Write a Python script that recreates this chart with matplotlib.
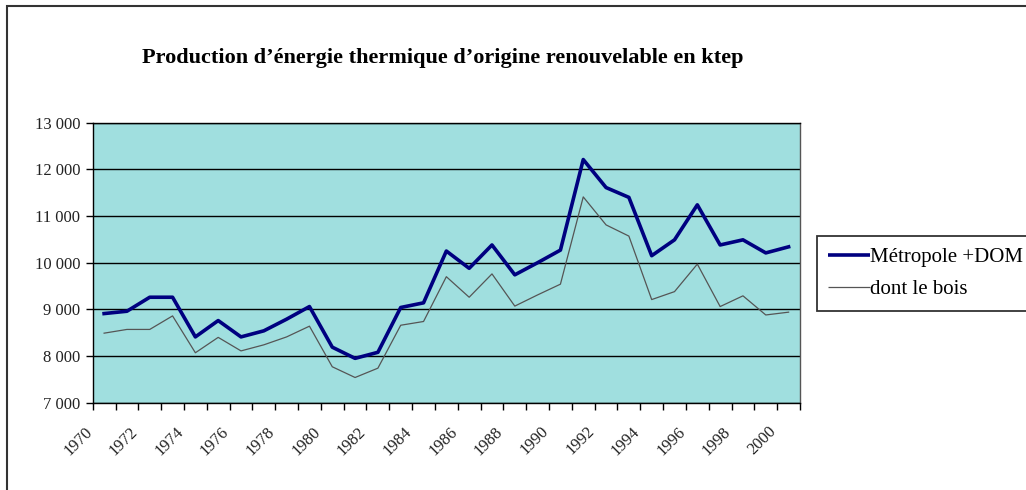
"""
Production d'energie thermique d'origine renouvelable (ktep), 1970-2000.
"""
import matplotlib

matplotlib.use("Agg")
import matplotlib.pyplot as plt
from matplotlib.patches import Rectangle
from matplotlib.transforms import ScaledTranslation
import numpy as np

years = list(range(1970, 2001))
metropole_dom = [
    8910, 8960, 9260, 9260, 8410, 8760, 8410, 8540, 8790, 9060,
    8190, 7950, 8080, 9040, 9140, 10250, 9880, 10380, 9740, 10000,
    10270, 12210, 11610, 11400, 10150, 10490, 11240, 10380, 10490, 10210,
    10340,
]
bois = [
    8490, 8570, 8570, 8860, 8070, 8400, 8110, 8240, 8410, 8640,
    7770, 7540, 7740, 8660, 8740, 9700, 9260, 9760, 9070, 9310,
    9540, 11410, 10810, 10570, 9210, 9380, 9970, 9060, 9290, 8880,
    8940,
]
yticks = [7000, 8000, 9000, 10000, 11000, 12000, 13000]
ytick_labels = ["7 000", "8 000", "9 000", "10 000", "11 000", "12 000", "13 000"]

W, H = 1026, 490
fig = plt.figure(figsize=(W / 100, H / 100), dpi=100)
plt.rcParams["font.family"] = ["Liberation Serif", "DejaVu Serif"]

# outer chart frame (only left and top edges fall inside the picture)
fig.patches.append(
    Rectangle((7 / W, -10 / H), 1040 / W, 494 / H, transform=fig.transFigure,
              fill=False, edgecolor="#333333", lw=1.5)
)

ax = fig.add_axes([92.7 / W, 1 - 402.7 / H, 707.3 / W, 280 / H])
ax.set_facecolor("#a0dfdf")
x = np.arange(len(years))
ax.plot(x, metropole_dom, color="#000080", lw=2.6, label="Métropole +DOM")
ax.plot(x, bois, color="#555555", lw=0.9, label="dont le bois")

ax.set_xlim(-0.5, len(years) - 0.5)
ax.set_ylim(7000, 13000)
ax.set_yticks(yticks)
ax.set_yticklabels(ytick_labels, fontsize=12, color="#222222")
ax.yaxis.grid(True, color="black", lw=1)
ax.set_axisbelow(True)
ax.tick_params(axis="y", length=5, width=1, color="black", pad=4)

ax.set_xticks(x[::2])
ax.set_xticklabels([str(y) for y in years[::2]], fontsize=12, rotation=45,
                   ha="right", rotation_mode="anchor", color="#222222")
ax.set_xticks(np.arange(-0.5, len(years), 1), minor=True)
ax.tick_params(axis="x", which="major", length=0, pad=15)
ax.tick_params(axis="x", which="minor", length=5, width=1, color="black")
shift = ScaledTranslation(-0.2, 0, fig.dpi_scale_trans)
for lab in ax.get_xticklabels():
    lab.set_transform(lab.get_transform() + shift)

for s in ax.spines.values():
    s.set_color("black")
    s.set_linewidth(1)
ax.spines["right"].set_color("#555555")

fig.text(443 / W, 1 - 58 / H,
         "Production d\u2019énergie thermique d\u2019origine renouvelable en ktep",
         ha="center", va="center", fontsize=16, fontweight="bold")

leg = fig.legend(loc="upper left", bbox_to_anchor=(817 / W, 1 - 236 / H),
                 fontsize=15, frameon=True, fancybox=False, edgecolor="black",
                 handlelength=2.0, handletextpad=0.0, borderpad=0.55,
                 labelspacing=0.6, borderaxespad=0)
leg.get_frame().set_linewidth(1.3)
for h in leg.get_lines():
    h.set_solid_capstyle("butt")

fig.savefig("out.png", dpi=100)
